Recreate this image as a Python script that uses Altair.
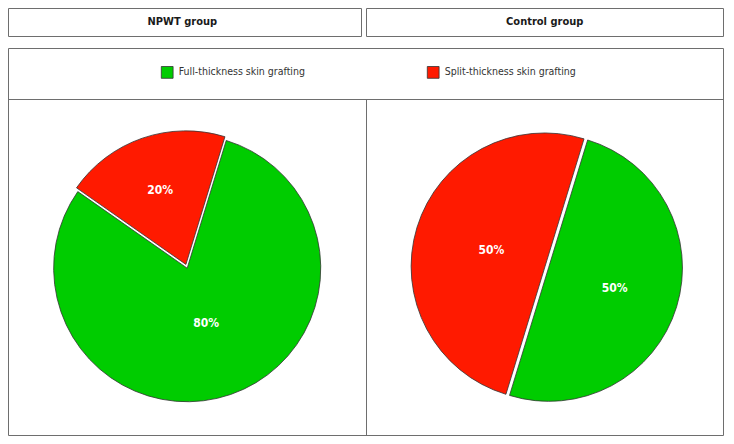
import math
import altair as alt
import pandas as pd

# ---- data ----
groups = ["NPWT group", "Control group"]
categories = ["Full-thickness skin grafting", "Split-thickness skin grafting"]
npwt_pct = [80, 20]
control_pct = [50, 50]
colors = ["#00CC00", "#FF1A00"]

rows = []
for g, vals in zip(groups, [npwt_pct, control_pct]):
    for i, (c, v) in enumerate(zip(categories, vals)):
        rows.append({"group": g, "category": c, "value": v, "order": i, "label": f"{v}%"})
df = pd.DataFrame(rows)

# ---- layout helpers (reference pixel -> svg pixel) ----
S = 0.982
def X(x):
    return round((x - 2.5) * S, 1)
def Y(y):
    return round((y - 3) * S, 1)

FONT = "DejaVu Sans Condensed, Tahoma, DejaVu Sans, sans-serif"
BORDER = "#6e6e6e"
start = math.radians(17)
theta_scale = alt.Scale(domain=[0, 100], range=[start, start + 2 * math.pi])
color_enc = alt.Color("category:N", scale=alt.Scale(domain=categories, range=colors), title=None)

one = pd.DataFrame({"a": [0]})

def box(x1, x2, y1, y2):
    return alt.Chart(one).mark_rect(fillOpacity=0, stroke=BORDER, strokeWidth=1).encode(
        x=alt.value(x1), x2=alt.value(x2), y=alt.value(y1), y2=alt.value(y2))

def hline(x1, x2, y):
    return alt.Chart(one).mark_rule(stroke=BORDER, strokeWidth=1).encode(
        x=alt.value(x1), x2=alt.value(x2), y=alt.value(y))

def vline(x, y1, y2):
    return alt.Chart(one).mark_rule(stroke=BORDER, strokeWidth=1).encode(
        x=alt.value(x), y=alt.value(y1), y2=alt.value(y2))

def header(i, cx, cy):
    return alt.Chart(pd.DataFrame({"g": [groups[i]]})).mark_text(
        font=FONT, fontSize=11, fontWeight="bold", color="#1a1a1a", baseline="middle", align="center"
    ).encode(x=alt.value(cx), y=alt.value(cy), text="g:N")

def pie(group, cx, cy, r, explode, lab_r):
    base = alt.Chart(df).transform_filter(alt.datum.group == group).transform_stack(
        stack="value", groupby=["group"], as_=["v0", "v1"],
        sort=[alt.SortField("order", order="ascending")]
    ).transform_calculate(mid="(datum.v0 + datum.v1) / 2")
    layers = []
    for i, c in enumerate(categories):
        dx, dy = explode[i]
        sub = base.transform_filter(alt.datum.category == c)
        arc = sub.mark_arc(radius=r, stroke="#333333", strokeWidth=0.8).encode(
            x=alt.value(cx + dx), y=alt.value(cy + dy),
            theta=alt.Theta("v0:Q", scale=theta_scale, stack=None),
            theta2="v1:Q",
            color=color_enc,
        )
        txt = sub.mark_text(font=FONT, fontSize=12, fontWeight="bold", color="white",
                            baseline="middle", align="center").encode(
            x=alt.value(cx + dx), y=alt.value(cy + dy),
            theta=alt.Theta("mid:Q", scale=theta_scale, stack=None),
            radius=alt.value(lab_r[i]),
            text="label:N",
        )
        layers += [arc, txt]
    return layers

R = 136 * S
def explode_vec(angle_deg, d):
    a = math.radians(angle_deg)
    return (round(math.sin(a) * d, 2), round(-math.cos(a) * d, 2))

pie1 = pie(groups[0], X(185), Y(268), R, [(0, 0), explode_vec(341, 4)], [58, 79])
pie2 = pie(groups[1], X(553), Y(267.5), R, [(0, 0), explode_vec(287, 3.8)], [69, 56])

L = 0.5
Rr = 715.5
layers = [
    box(L, 353.5, 0.5, 28.5),
    box(358.5, Rr, 0.5, 28.5),
    box(L, Rr, 40.5, 427.5),
    hline(L, Rr, 91.5),
    vline(358.5, 91.5, 427.5),
    header(0, X(180), Y(17.5)),
    header(1, X(549), Y(17.5)),
] + pie1 + pie2

chart = alt.layer(*layers).properties(
    width=718, height=428, padding=0, autosize=alt.AutoSizeParams(type="none")
).configure_view(stroke=None).configure_legend(
    orient="none", legendX=X(158), legendY=Y(62), direction="horizontal",
    symbolType="square", symbolSize=139, symbolStrokeColor="#333333", symbolStrokeWidth=0.8,
    labelFont=FONT, labelFontSize=10.5, labelColor="#333333", labelOffset=5,
    columnPadding=120, padding=0, labelLimit=400,
)

chart.save("out.html", embed_options={"renderer": "svg", "actions": False})
